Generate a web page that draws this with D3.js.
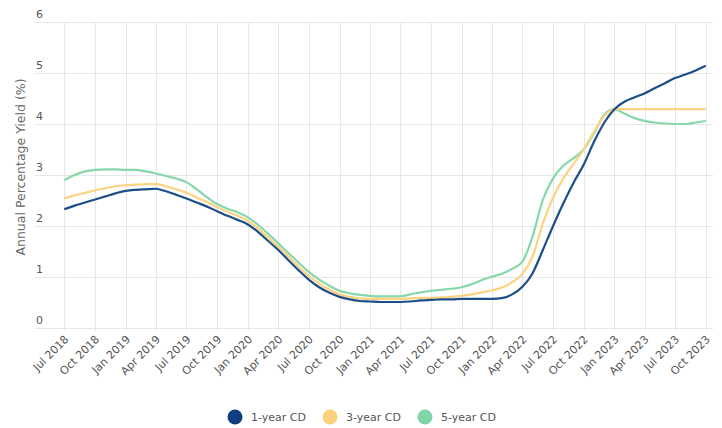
<!DOCTYPE html>
<html>
<head>
<meta charset="utf-8">
<script src="https://cdn.jsdelivr.net/npm/d3@7"></script>
<style>
  html, body { margin: 0; padding: 0; background: #fff; }
  svg { display: block; font-family: "DejaVu Sans", sans-serif; }
</style>
</head>
<body>
<svg id="chart" width="722" height="428"></svg>
<script>
// Monthly observations, Jul 2018 .. Oct 2023
const startMonth = "2018-07";
const oneYearCD = [
  2.33, 2.40, 2.46, 2.52, 2.58, 2.64,
  2.69, 2.71, 2.72, 2.73, 2.68, 2.61, 2.54, 2.46, 2.38, 2.29, 2.20, 2.12,
  2.03, 1.88, 1.71, 1.53, 1.33, 1.13, 0.95, 0.80, 0.69, 0.61, 0.56, 0.53,
  0.52, 0.51, 0.51, 0.51, 0.52, 0.54, 0.55, 0.56, 0.56, 0.57, 0.57, 0.57,
  0.57, 0.59, 0.66, 0.81, 1.07, 1.53, 1.99, 2.44, 2.85, 3.20, 3.65, 4.02,
  4.29, 4.44, 4.52, 4.60, 4.70, 4.80, 4.90, 4.97, 5.05, 5.14
];
const threeYearCD = [
  2.54, 2.60, 2.65, 2.70, 2.74, 2.78,
  2.80, 2.81, 2.82, 2.82, 2.78, 2.72, 2.65, 2.56, 2.47, 2.37, 2.28, 2.20,
  2.10, 1.95, 1.78, 1.59, 1.40, 1.20, 1.02, 0.87, 0.75, 0.66, 0.61, 0.58,
  0.57, 0.57, 0.57, 0.57, 0.58, 0.59, 0.59, 0.60, 0.61, 0.63, 0.66, 0.70,
  0.74, 0.80, 0.90, 1.06, 1.40, 2.05, 2.55, 2.93, 3.22, 3.50, 3.85, 4.15,
  4.29, 4.29, 4.29, 4.29, 4.29, 4.29, 4.29, 4.29, 4.29, 4.29
];
const fiveYearCD = [
  2.90, 3.00, 3.07, 3.10, 3.11, 3.11,
  3.10, 3.10, 3.07, 3.03, 2.98, 2.93, 2.86, 2.72, 2.56, 2.43, 2.34, 2.27,
  2.17, 2.02, 1.85, 1.66, 1.47, 1.28, 1.10, 0.95, 0.83, 0.73, 0.68, 0.65,
  0.63, 0.62, 0.62, 0.62, 0.66, 0.70, 0.73, 0.75, 0.77, 0.80, 0.86, 0.94,
  1.01, 1.07, 1.16, 1.30, 1.79, 2.51, 2.93, 3.18, 3.33, 3.50, 3.82, 4.18,
  4.29, 4.20, 4.12, 4.06, 4.03, 4.01, 4.00, 4.00, 4.03, 4.06
];
const seriesNames = ["1-year CD", "3-year CD", "5-year CD"];
const seriesColors = ["#1c4e88", "#fdd281", "#86d8aa"];
const legendColors = ["#0f3f80", "#fdd07c", "#7fd5a5"];
const yTicks = [0, 1, 2, 3, 4, 5, 6];
const yTitle = "Annual Percentage Yield (%)";

const parseMonth = d3.timeParse("%Y-%m");
const start = parseMonth(startMonth);
const months = oneYearCD.map((_, i) => d3.timeMonth.offset(start, i));
const seriesValues = [oneYearCD, threeYearCD, fiveYearCD];

const svg = d3.select("#chart");
const x = d3.scaleTime()
  .domain([months[0], months[months.length - 1]])
  .range([64.3, 705.7]);
const y = d3.scaleLinear().domain([0, 6]).range([328, 22]);

const xTickDates = d3.timeMonth.every(3).range(months[0], d3.timeMonth.offset(months[months.length - 1], 1));
const fmt = d3.timeFormat("%b %Y");

// Grid
const grid = svg.append("g");
grid.selectAll("line.h").data(yTicks).join("line")
  .attr("x1", 35).attr("x2", 713)
  .attr("y1", d => y(d) + 0.5).attr("y2", d => y(d) + 0.5)
  .attr("stroke", "#e6e6e6").attr("stroke-width", 1);
grid.selectAll("line.v").data(xTickDates).join("line")
  .attr("x1", d => Math.round(x(d)) + 0.5).attr("x2", d => Math.round(x(d)) + 0.5)
  .attr("y1", y(6)).attr("y2", y(0) + 3)
  .attr("stroke", "#e6e6e6").attr("stroke-width", 1);

// Y tick labels (above the gridlines)
svg.append("g").selectAll("text").data(yTicks).join("text")
  .attr("x", 36).attr("y", d => y(d) - 4)
  .attr("font-size", 11).attr("fill", "#555")
  .text(d => d);

// Y title
svg.append("text")
  .attr("transform", "translate(25,167) rotate(-90)")
  .attr("text-anchor", "middle")
  .attr("font-size", 12.5).attr("fill", "#666")
  .text(yTitle);

// X tick labels
svg.append("g").selectAll("text").data(xTickDates).join("text")
  .attr("transform", d => `translate(${x(d) + 5},${y(0) + 12}) rotate(-45)`)
  .attr("text-anchor", "end")
  .attr("font-size", 11).attr("fill", "#555")
  .text(d => fmt(d));

// Lines
const line = d3.line()
  .x((d, i) => x(months[i]))
  .y(d => y(d))
  .curve(d3.curveMonotoneX);
svg.append("g").selectAll("path").data([2, 1, 0]).join("path")
  .attr("d", k => line(seriesValues[k]))
  .attr("fill", "none")
  .attr("stroke", k => seriesColors[k])
  .attr("stroke-width", 2.2)
  .attr("stroke-linejoin", "round");

// Legend
const legendX = [235, 330, 425];
const lg = svg.append("g").selectAll("g").data(seriesNames).join("g")
  .attr("transform", (d, i) => `translate(${legendX[i]},417)`);
lg.append("circle").attr("r", 7.5).attr("fill", (d, i) => legendColors[i]);
lg.append("text").attr("x", 16).attr("y", 4)
  .attr("font-size", 11).attr("fill", "#555")
  .text(d => d);
</script>
</body>
</html>
